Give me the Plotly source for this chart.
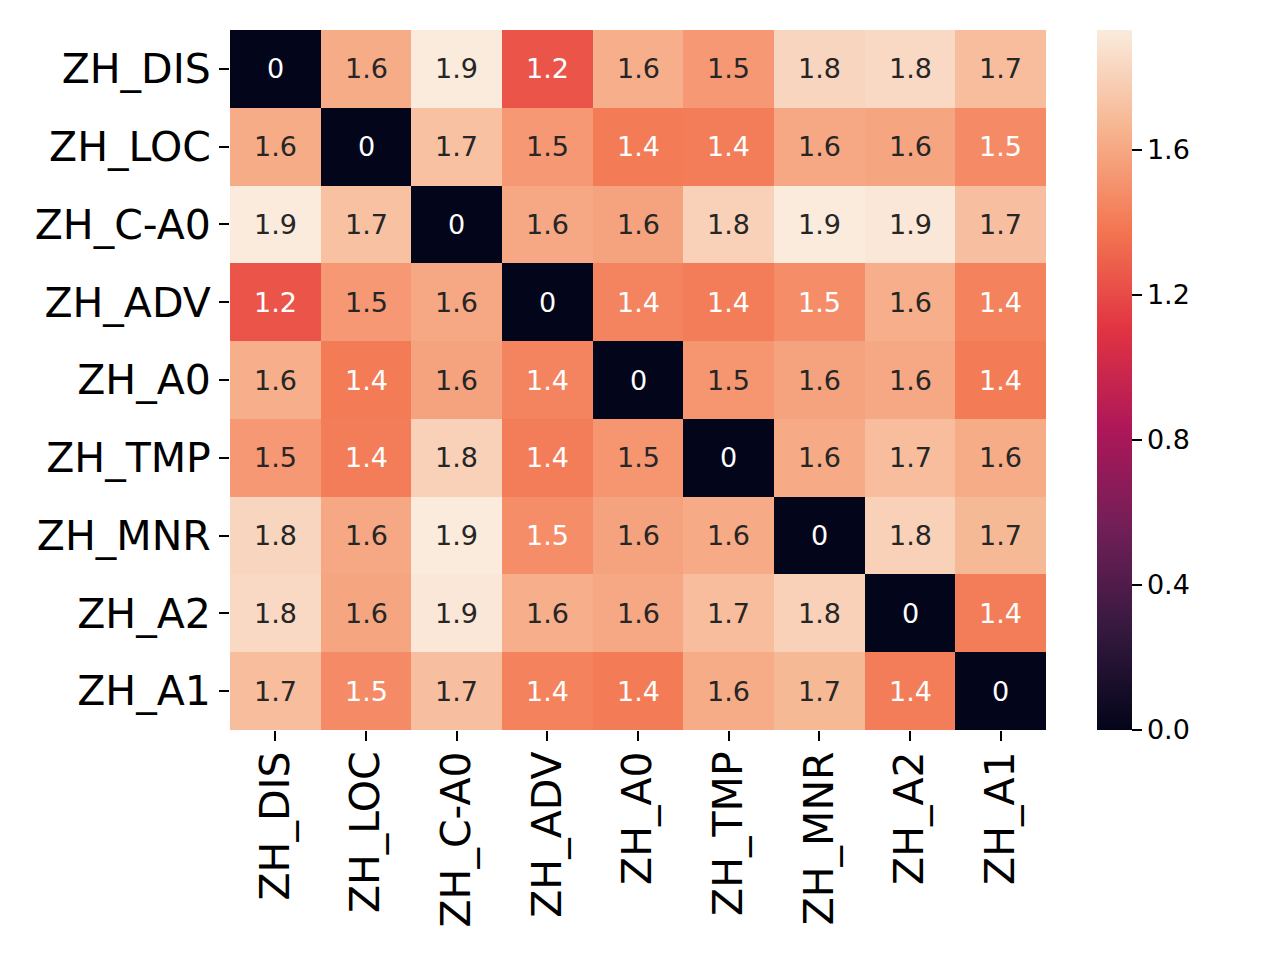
import plotly.graph_objects as go

labels = ["ZH_DIS", "ZH_LOC", "ZH_C-A0", "ZH_ADV", "ZH_A0", "ZH_TMP", "ZH_MNR", "ZH_A2", "ZH_A1"]

row_dis = [0.00, 1.62, 1.93, 1.24, 1.63, 1.53, 1.82, 1.84, 1.70]
row_loc = [1.62, 0.00, 1.72, 1.53, 1.40, 1.41, 1.60, 1.59, 1.47]
row_ca0 = [1.93, 1.72, 0.00, 1.60, 1.58, 1.80, 1.93, 1.91, 1.71]
row_adv = [1.24, 1.53, 1.60, 0.00, 1.44, 1.41, 1.48, 1.63, 1.43]
row_a0  = [1.63, 1.40, 1.58, 1.44, 0.00, 1.52, 1.58, 1.60, 1.40]
row_tmp = [1.53, 1.41, 1.80, 1.41, 1.52, 0.00, 1.61, 1.70, 1.62]
row_mnr = [1.82, 1.60, 1.93, 1.48, 1.58, 1.61, 0.00, 1.80, 1.68]
row_a2  = [1.84, 1.59, 1.91, 1.63, 1.60, 1.70, 1.80, 0.00, 1.41]
row_a1  = [1.70, 1.47, 1.71, 1.43, 1.40, 1.62, 1.68, 1.41, 0.00]

z = [row_dis, row_loc, row_ca0, row_adv, row_a0, row_tmp, row_mnr, row_a2, row_a1]

cbar_ticks = [0.0, 0.4, 0.8, 1.2, 1.6]

rocket = [
    (0.0, "#03051a"),
    (1 / 7, "#35193e"),
    (2 / 7, "#701f57"),
    (3 / 7, "#ad1759"),
    (4 / 7, "#e13342"),
    (5 / 7, "#f37651"),
    (6 / 7, "#f6b48f"),
    (1.0, "#faebdd"),
]

zmin = 0.0
zmax = max(max(r) for r in z)


def hex_rgb(h):
    h = h.lstrip("#")
    return [int(h[k:k + 2], 16) for k in (0, 2, 4)]


def color_at(t):
    t = min(max(t, 0.0), 1.0)
    for (p0, c0), (p1, c1) in zip(rocket[:-1], rocket[1:]):
        if p0 <= t <= p1:
            f = (t - p0) / (p1 - p0) if p1 > p0 else 0
            a, b = hex_rgb(c0), hex_rgb(c1)
            return [a[k] + f * (b[k] - a[k]) for k in range(3)]
    return hex_rgb(rocket[-1][1])


def lum(rgb):
    out = []
    for c in rgb:
        c = c / 255.0
        out.append(c / 12.92 if c <= 0.03928 else ((c + 0.055) / 1.055) ** 2.4)
    return 0.2126 * out[0] + 0.7152 * out[1] + 0.0722 * out[2]


ML, MR, MT, MB = 222, 242, 22, 238
plot_w = 1280 - ML - MR

fig = go.Figure()
fig.add_trace(go.Heatmap(
    z=z, x=labels, y=labels,
    colorscale=[[p, c] for p, c in rocket],
    zmin=zmin, zmax=zmax,
    hoverinfo="skip",
    colorbar=dict(
        thickness=35, len=1.0, lenmode="fraction",
        x=(1089 - ML) / plot_w, xanchor="left", xpad=0,
        y=0.5, yanchor="middle", ypad=0,
        outlinewidth=0,
        tickvals=cbar_ticks, ticktext=[f"{v:.1f}" for v in cbar_ticks],
        ticks="outside", ticklen=10, tickwidth=2, tickcolor="black",
        tickfont=dict(family="DejaVu Sans", size=27, color="black"),
    ),
))

annotations = []
for i, row in enumerate(z):
    for j, v in enumerate(row):
        c = color_at((v - zmin) / (zmax - zmin))
        tc = "#262626" if lum(c) > 0.408 else "white"
        annotations.append(dict(
            x=labels[j], y=labels[i], text=f"{v:.2g}", showarrow=False,
            font=dict(family="DejaVu Sans", size=27, color=tc),
        ))

fig.update_layout(
    width=1280, height=960,
    margin=dict(l=ML, r=MR, t=MT, b=MB),
    paper_bgcolor="white", plot_bgcolor="white",
    annotations=annotations,
    font=dict(family="DejaVu Sans", color="black"),
    xaxis=dict(
        tickangle=-90, ticks="outside", ticklen=10, tickwidth=2, tickcolor="black",
        tickfont=dict(family="DejaVu Sans", size=41, color="black"),
        ticklabelstandoff=-6,
        showgrid=False, zeroline=False, showline=False,
    ),
    yaxis=dict(
        autorange="reversed", ticks="outside", ticklen=10, tickwidth=2, tickcolor="black",
        tickfont=dict(family="DejaVu Sans", size=41, color="black"),
        showgrid=False, zeroline=False, showline=False,
    ),
)

fig.write_html("out.html")
